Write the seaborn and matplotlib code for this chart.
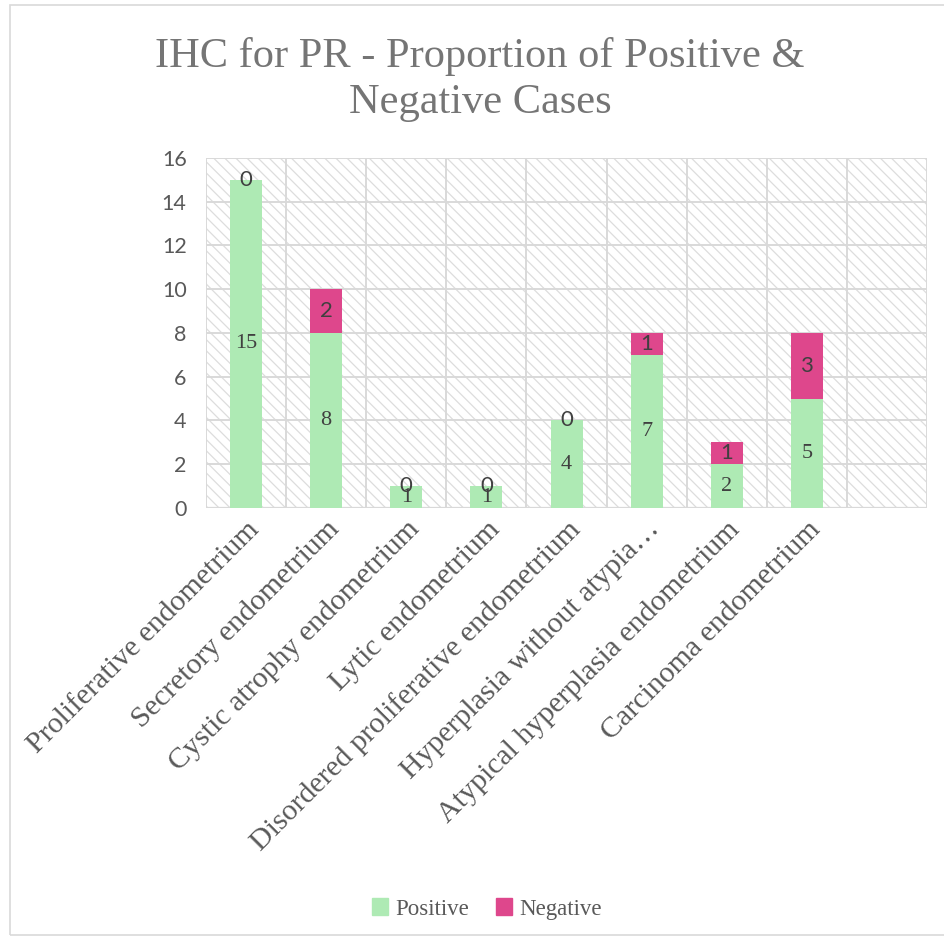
import matplotlib
matplotlib.use("Agg")
import matplotlib.pyplot as plt
from matplotlib.patches import Rectangle
import seaborn as sns
import pandas as pd

categories = [
    "Proliferative endometrium",
    "Secretory endometrium",
    "Cystic atrophy endometrium",
    "Lytic endometrium",
    "Disordered proliferative endometrium",
    "Hyperplasia without atypia\u2026",
    "Atypical hyperplasia endometrium",
    "Carcinoma endometrium",
    "",
]
positive = [15, 8, 1, 1, 4, 7, 2, 5, None]
negative = [0, 2, 0, 0, 0, 1, 1, 3, None]

pos_color = "#aeeab4"
neg_color = "#de478c"
grid_color = "#d9d9d9"
text_gray = "#595959"
label_dark = "#404040"

sns.set_theme(style="white")
plt.rcParams["hatch.linewidth"] = 0.9

df = pd.DataFrame({"category": categories,
                   "positive": positive,
                   "negative": negative})
df_bars = df[df["category"] != ""]

fig = plt.figure(figsize=(9.45, 9.4), dpi=100)
ax = fig.add_axes([0.218, 0.4596, 0.763, 0.3724])

# hatched plot area
ax.add_patch(Rectangle((0, 0), 1, 1, transform=ax.transAxes, facecolor="white",
                       edgecolor="#dddddd", hatch="\\" * 3, linewidth=0, zorder=0))

order = list(categories)
sns.barplot(data=df_bars, x="category", y="positive", order=order, color=pos_color,
            width=0.4, ax=ax, zorder=3, saturation=1, linewidth=0)
sns.barplot(data=df_bars, x="category", y="negative", order=order, color=neg_color,
            width=0.4, ax=ax, zorder=3, saturation=1, linewidth=0,
            bottom=df_bars["positive"].values)

ax.set_xlim(-0.5, len(categories) - 0.5)
ax.set_ylim(0, 16)
ax.set_yticks(range(0, 17, 2))
ax.set_xlabel("")
ax.set_ylabel("")

# grid: horizontal at y ticks, vertical at category boundaries
for y in range(2, 17, 2):
    ax.axhline(y, color=grid_color, lw=1.4, zorder=1)
for i in range(len(categories) + 1):
    ax.axvline(i - 0.5, color=grid_color, lw=1.4, zorder=1)
for s in ax.spines.values():
    s.set_visible(False)
ax.axhline(0, color=grid_color, lw=1.6, zorder=2)

ax.tick_params(axis="y", length=0, pad=14, labelsize=15.5, labelcolor=text_gray)
for t in ax.get_yticklabels():
    t.set_fontfamily("Lato")
ax.tick_params(axis="x", length=0, pad=6)
ax.set_xticks(range(len(categories)))
ax.set_xticklabels(categories, rotation=45, ha="right", va="top",
                   rotation_mode="anchor", fontsize=21.5, color=text_gray,
                   fontfamily="Liberation Serif")

# value labels
for i, (p, n) in enumerate(zip(positive, negative)):
    if p is None:
        continue
    ax.text(i, p / 2, str(p), ha="center", va="center", fontsize=16,
            color=label_dark, fontfamily="Liberation Serif", zorder=5)
    ax.text(i, p + n / 2 if n else p, str(n), ha="center", va="center",
            fontsize=16, color=label_dark, fontfamily="Lato", zorder=5)

fig.text(0.508, 0.915, "IHC for PR - Proportion of Positive &\nNegative Cases",
         ha="center", va="center", fontsize=30.5, color="#757575",
         fontfamily="Liberation Serif", linespacing=1.25)

handles = [Rectangle((0, 0), 1, 1, color=pos_color),
           Rectangle((0, 0), 1, 1, color=neg_color)]
fig.legend(handles, ["Positive", "Negative"], loc="center", ncol=2,
           bbox_to_anchor=(0.515, 0.033), frameon=False, handlelength=0.7,
           handleheight=0.7, handletextpad=0.3, columnspacing=1.2,
           prop={"family": "Liberation Serif", "size": 16.5}, labelcolor=text_gray)

# chart border
fig.add_artist(Rectangle((0.011, 0.005), 0.99, 0.99, transform=fig.transFigure,
                         fill=False, edgecolor="#d9d9d9", lw=1.2))

fig.savefig("out.png", dpi=100, facecolor="white")
